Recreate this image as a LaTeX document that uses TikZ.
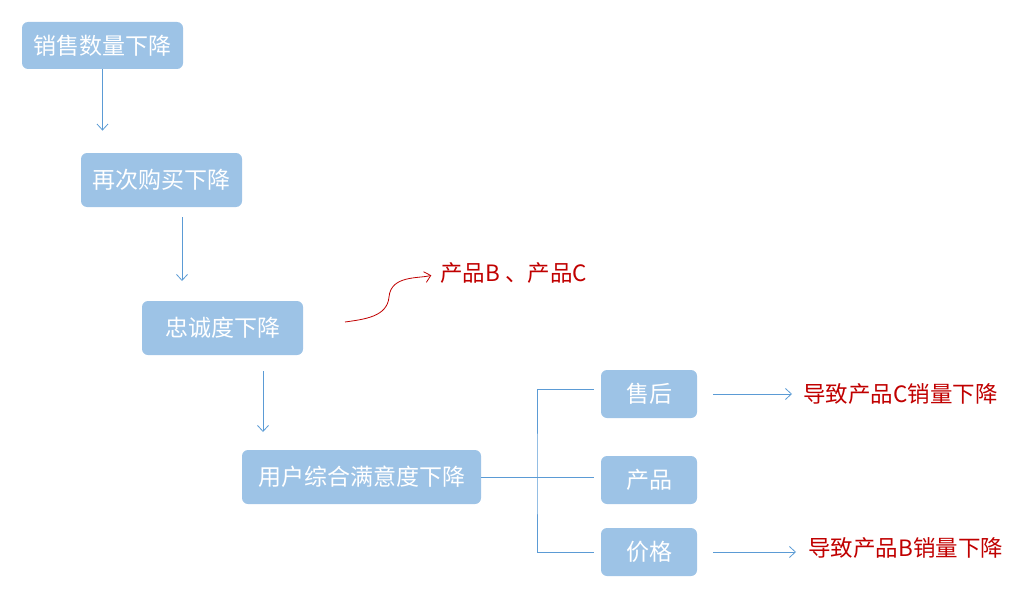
\documentclass[tikz,border=0pt]{standalone}
\usepackage{fontspec}
\newfontfamily\cjk{Noto Sans CJK SC}
\usepackage{tikz}
\usetikzlibrary{arrows.meta}
\usetikzlibrary{calc}
\definecolor{boxblue}{HTML}{9DC3E6}
\definecolor{lineblue}{HTML}{5B9BD5}
\definecolor{darkred}{HTML}{C00000}

\begin{document}
\begin{tikzpicture}[x={(1pt,0)},y={(0,-1pt)},line width=0.8pt,
    box/.style={rectangle, rounded corners=6pt, fill=boxblue, text=white, inner sep=0pt,
      font=\cjk\fontsize{23}{27}\selectfont},
    note/.style={inner sep=0pt, text=darkred, font=\cjk\fontsize{22.5}{27}\selectfont, anchor=west},
    flow/.style={lineblue, -{Straight Barb[length=6pt,width=11pt]}},
    cause/.style={darkred, -{Straight Barb[length=6pt,width=11pt]}}]
        \useasboundingbox (0,0) rectangle (1016,599);

        \node[box, minimum width=161pt, minimum height=47pt](xs) at (102.5,45.5){销售数量下降};
        \node[box, minimum width=161pt, minimum height=54pt](zc) at (161.5,180){再次购买下降};
        \node[box, minimum width=161pt, minimum height=54pt](zy) at (222.5,328){忠诚度下降};
        \node[box, minimum width=239pt, minimum height=54pt](my) at (361.5,477){用户综合满意度下降};
        \node[box, minimum width=96pt, minimum height=48pt](sh) at (649,394){售后};
        \node[box, minimum width=96pt, minimum height=48pt](cp) at (649,480){产品};
        \node[box, minimum width=96pt, minimum height=48pt](jg) at (649,552){价格};

        \node[note](bc) at (440,273){产品B 、产品C};
        \node[note](dc) at (803,394){导致产品C销量下降};
        \node[note](db) at (808,548){导致产品B销量下降};

        \coordinate (c0) at (345,322);
        \coordinate (j) at (537,477);

        \draw[flow, shorten >=22pt] (xs.south) -- (xs.south |- zc.north);
        \draw[flow, shorten <=10pt, shorten >=20pt] (zc.south -| 182,0) -- (182,301);
        \draw[flow, shorten <=16pt, shorten >=18pt] (zy.south -| 263,0) -- (263,450);

        \draw[cause, shorten >=9pt] (c0) to[out=8,in=-95] (389,297) to[out=85,in=195] (bc.west);

        \draw[lineblue] (my.east) -- (j);
        \draw[lineblue] ([xshift=-7pt,yshift=5pt]sh.west) -| (j) |- ([xshift=-7pt]jg.west);
        \draw[lineblue] (j) -- ([xshift=-7pt]cp.west |- j);

        \draw[flow, shorten <=16pt, shorten >=11pt] (sh.east) -- (sh.east -| dc.west);
        \draw[flow, shorten <=16pt, shorten >=12pt] (jg.east) -- (jg.east -| db.west);

      \end{tikzpicture}
\end{document}
